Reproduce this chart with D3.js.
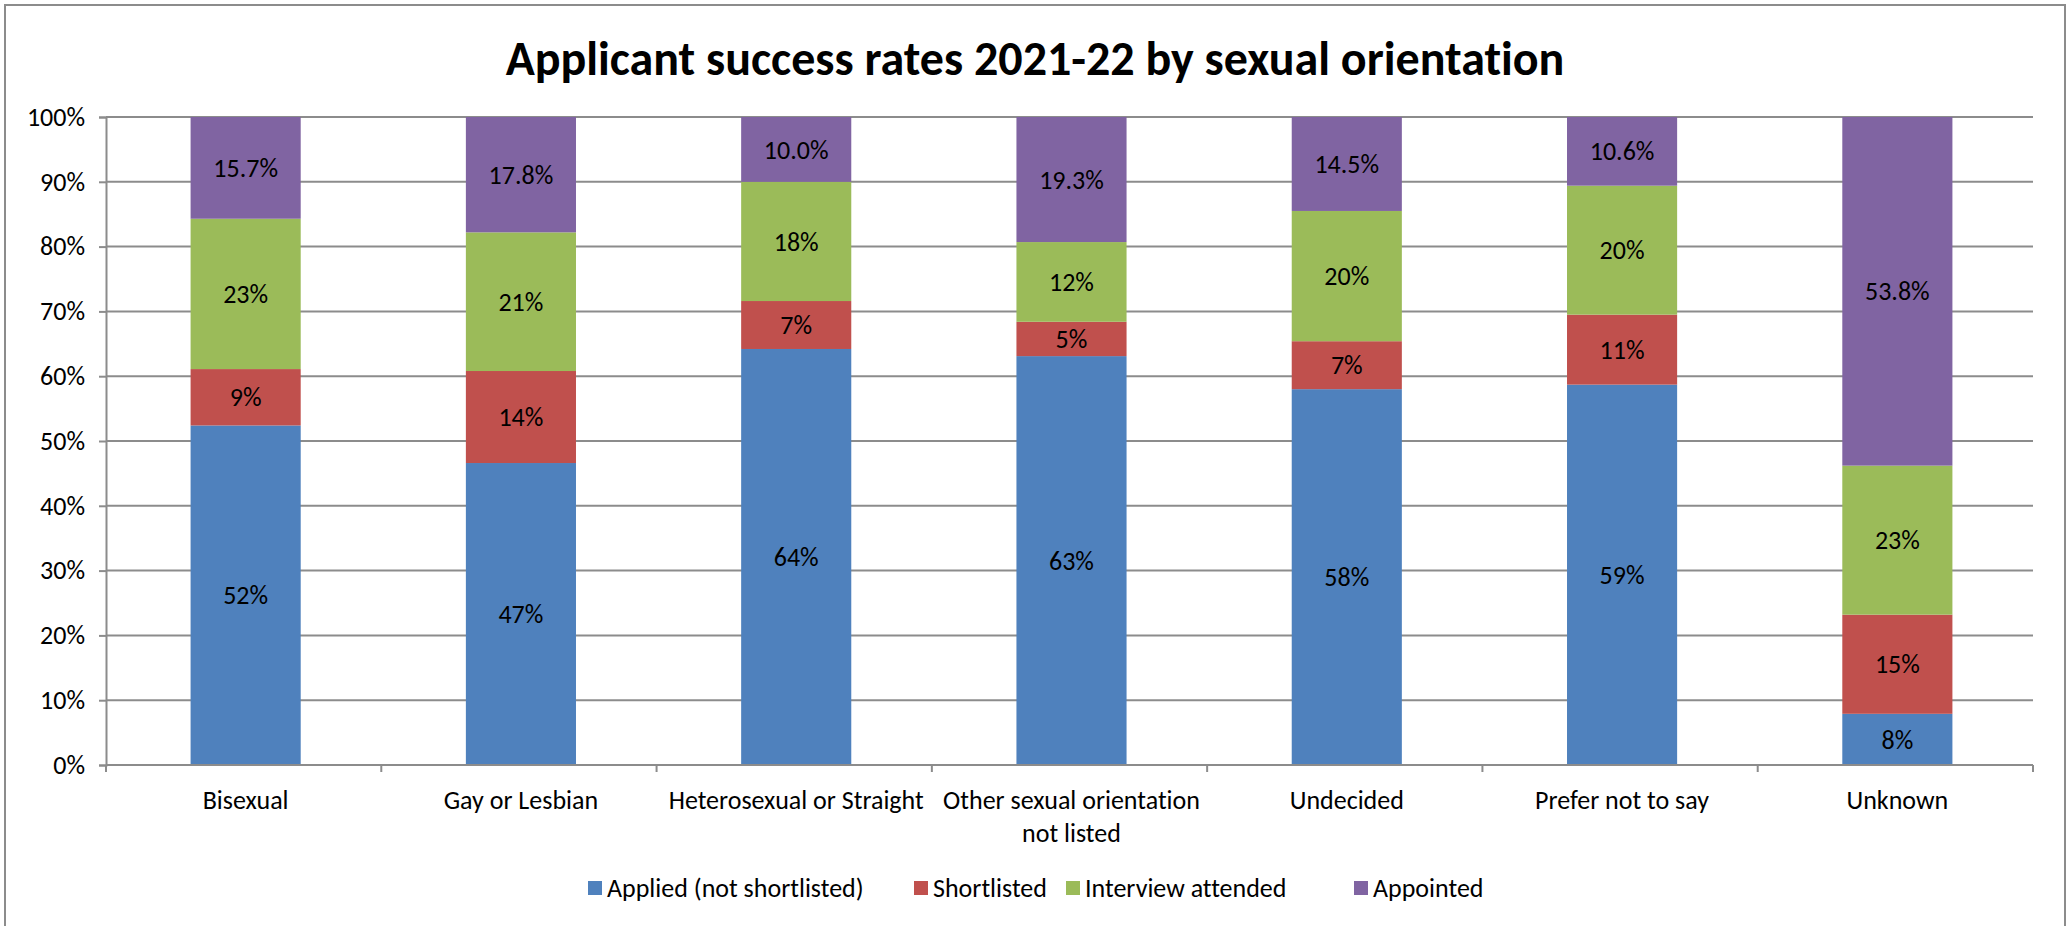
<!DOCTYPE html>
<html>
<head>
<meta charset="utf-8">
<script src="https://cdn.jsdelivr.net/npm/d3@7"></script>
<style>
  html, body { margin: 0; padding: 0; background: #ffffff; }
  svg { display: block; }
  text { font-family: Carlito, Calibri, Lato, "Open Sans", sans-serif; fill: #000; font-variant-ligatures: none; }
</style>
</head>
<body>
<svg id="chart" width="2069" height="926"></svg>
<script>
// Categories along the x axis
const categories = [
  "Bisexual",
  "Gay or Lesbian",
  "Heterosexual or Straight",
  "Other sexual orientation not listed",
  "Undecided",
  "Prefer not to say",
  "Unknown"
];

// Series names (stack order, bottom to top)
const seriesNames = ["Applied (not shortlisted)", "Shortlisted", "Interview attended", "Appointed"];

// Share of applicants at each stage, in percent
const applied     = [52.4, 46.6, 64.2, 63.1, 58.0, 58.7,  7.9];
const shortlisted = [ 8.7, 14.2,  7.4,  5.3,  7.4, 10.8, 15.3];
const interview   = [23.2, 21.4, 18.4, 12.3, 20.1, 19.9, 23.0];
const appointed   = [15.7, 17.8, 10.0, 19.3, 14.5, 10.6, 53.8];

// Y axis tick values (percent)
const yTicks = [0, 10, 20, 30, 40, 50, 60, 70, 80, 90, 100];

const seriesColors = ["#4F81BD", "#C0504D", "#9BBB59", "#8064A2"];
const labelDigits = [0, 0, 0, 1];

const W = 2069, H = 926;
const plot = { left: 106, right: 2033, top: 117, bottom: 765 };
const fontSize = 26;

const svg = d3.select("#chart");

// Chart frame
svg.append("rect")
  .attr("x", 5).attr("y", 5)
  .attr("width", W - 9).attr("height", H + 10)
  .attr("fill", "#fff")
  .attr("stroke", "#8c8c8c")
  .attr("stroke-width", 2);

// Title
svg.append("text")
  .attr("x", (5 + W - 4) / 2)
  .attr("y", 75)
  .attr("text-anchor", "middle")
  .style("font-size", "48px")
  .style("font-weight", "bold")
  .text("Applicant success rates 2021-22 by sexual orientation");

// Build the stacked data
const rows = categories.map((c, i) => ({
  category: c,
  [seriesNames[0]]: applied[i],
  [seriesNames[1]]: shortlisted[i],
  [seriesNames[2]]: interview[i],
  [seriesNames[3]]: appointed[i]
}));
const stacked = d3.stack().keys(seriesNames)(rows);

const x = d3.scaleBand()
  .domain(categories)
  .range([plot.left, plot.right])
  .paddingInner(0.6)
  .paddingOuter(0.3);

const y = d3.scaleLinear()
  .domain([0, 100])
  .range([plot.bottom, plot.top]);

const fmtPct = d => d3.format(".0f")(d) + "%";

// Horizontal gridlines
svg.append("g")
  .selectAll("line")
  .data(yTicks.filter(t => t > 0))
  .join("line")
  .attr("x1", plot.left).attr("x2", plot.right)
  .attr("y1", d => y(d)).attr("y2", d => y(d))
  .attr("stroke", "#8c8c8c")
  .attr("stroke-width", 2);

// Y axis
const yAxis = svg.append("g")
  .attr("transform", `translate(${plot.left},0)`)
  .call(d3.axisLeft(y).tickValues(yTicks).tickFormat(fmtPct).tickSize(7).tickPadding(14));
yAxis.select(".domain").attr("stroke", "#8c8c8c").attr("stroke-width", 2);
yAxis.selectAll(".tick line").attr("stroke", "#8c8c8c").attr("stroke-width", 2);
yAxis.selectAll(".tick text")
  .style("font-size", fontSize + "px")
  .style("font-family", "Carlito, Calibri, Lato, sans-serif")
  .attr("fill", "#000");

// Bars
const layers = svg.append("g")
  .selectAll("g")
  .data(stacked)
  .join("g")
  .attr("fill", (d, i) => seriesColors[i]);

layers.selectAll("rect")
  .data(d => d)
  .join("rect")
  .attr("x", d => x(d.data.category) + 2)
  .attr("width", x.bandwidth())
  .attr("y", d => y(d[1]))
  .attr("height", d => y(d[0]) - y(d[1]));

// Data labels centred in each segment
const labels = svg.append("g");
stacked.forEach((layer, si) => {
  labels.selectAll(null)
    .data(layer)
    .join("text")
    .attr("x", d => x(d.data.category) + 2 + x.bandwidth() / 2)
    .attr("y", d => y((d[0] + d[1]) / 2))
    .attr("dy", "0.35em")
    .attr("text-anchor", "middle")
    .style("font-size", fontSize + "px")
    .text(d => d3.format("." + labelDigits[si] + "f")(d[1] - d[0]) + "%");
});

// X axis line and category boundary ticks
const step = x.step();
const x0 = plot.left;
svg.append("line")
  .attr("x1", plot.left).attr("x2", plot.right)
  .attr("y1", plot.bottom).attr("y2", plot.bottom)
  .attr("stroke", "#8c8c8c").attr("stroke-width", 2);
svg.append("g")
  .selectAll("line")
  .data(d3.range(categories.length + 1))
  .join("line")
  .attr("x1", i => x0 + i * step).attr("x2", i => x0 + i * step)
  .attr("y1", plot.bottom).attr("y2", plot.bottom + 7)
  .attr("stroke", "#8c8c8c").attr("stroke-width", 2);

// Category labels, wrapped to the band width
const catLabels = svg.append("g")
  .selectAll("text")
  .data(categories)
  .join("text")
  .attr("x", d => x(d) + 2 + x.bandwidth() / 2)
  .attr("y", plot.bottom + 44)
  .attr("text-anchor", "middle")
  .style("font-size", fontSize + "px");

catLabels.each(function(d) {
  const t = d3.select(this);
  const words = d.split(" ");
  const maxW = step - 8;
  let line = [];
  let tspan = t.append("tspan").attr("x", t.attr("x")).attr("dy", 0);
  words.forEach(w => {
    line.push(w);
    tspan.text(line.join(" "));
    if (tspan.node().getComputedTextLength() > maxW && line.length > 1) {
      line.pop();
      tspan.text(line.join(" "));
      line = [w];
      tspan = t.append("tspan").attr("x", t.attr("x")).attr("dy", 33).text(w);
    }
  });
});

// Legend
const legendX = [588, 914, 1066, 1354];
const legend = svg.append("g")
  .selectAll("g")
  .data(seriesNames)
  .join("g")
  .attr("transform", (d, i) => `translate(${legendX[i]},888)`);
legend.append("rect")
  .attr("x", 0).attr("y", -7)
  .attr("width", 14).attr("height", 14)
  .attr("fill", (d, i) => seriesColors[i]);
legend.append("text")
  .attr("x", 19)
  .attr("y", 0)
  .attr("dy", "0.35em")
  .style("font-size", fontSize + "px")
  .text(d => d);
</script>
</body>
</html>
